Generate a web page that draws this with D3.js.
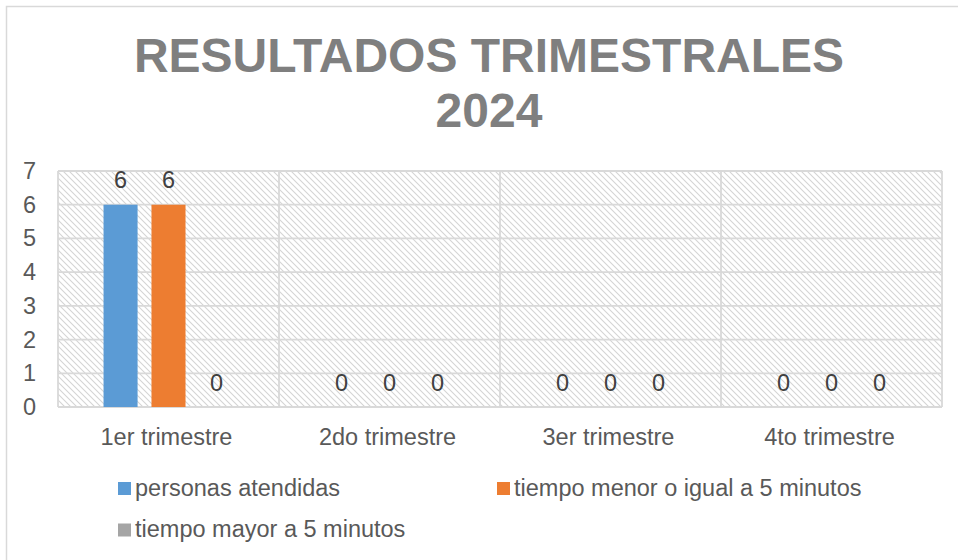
<!DOCTYPE html>
<html>
<head>
<meta charset="utf-8">
<script src="https://cdn.jsdelivr.net/npm/d3@7"></script>
<style>
  body { margin: 0; background: #fff; }
  svg { display: block; font-family: "Liberation Sans", Arial, sans-serif; }
</style>
</head>
<body>
<svg id="chart" width="958" height="560"></svg>
<script>
const categories = ['1er trimestre', '2do trimestre', '3er trimestre', '4to trimestre'];
const seriesNames = ['personas atendidas', 'tiempo menor o igual a 5 minutos', 'tiempo mayor a 5 minutos'];
const seriesColors = ['#5b9bd5', '#ed7d31', '#a5a5a5'];
const personasAtendidas = [6, 0, 0, 0];
const tiempoMenor = [6, 0, 0, 0];
const tiempoMayor = [0, 0, 0, 0];
const yTicks = [0, 1, 2, 3, 4, 5, 6, 7];

const seriesValues = [personasAtendidas, tiempoMenor, tiempoMayor];
const textColor = '#595959';
const gridColor = '#d9d9d9';
const labelSize = '23.5px';

const svg = d3.select('#chart');
const plot = { left: 58, right: 942, top: 171, bottom: 407 };

// outer chart frame (runs past the visible window on right and bottom)
svg.append('rect')
  .attr('x', 6.5).attr('y', 6.5)
  .attr('width', 1000).attr('height', 600)
  .attr('fill', '#fff')
  .attr('stroke', gridColor)
  .attr('stroke-width', 1.5);

// hatch pattern for the plot background
const defs = svg.append('defs');
defs.append('pattern')
  .attr('id', 'hatch')
  .attr('patternUnits', 'userSpaceOnUse')
  .attr('width', 6).attr('height', 6)
  .call((p) => p.append('path')
    .attr('d', 'M-1,-1 L7,7 M-1,5 L1,7 M5,-1 L7,1')
    .attr('stroke', '#d4d4d4')
    .attr('stroke-width', 1.1));

// title
svg.append('text')
  .attr('text-anchor', 'middle')
  .attr('fill', '#7f7f7f')
  .style('font-weight', 700)
  .style('font-size', '48px')
  .call((t) => t.append('tspan').attr('x', 489).attr('y', 72).text('RESULTADOS TRIMESTRALES'))
  .call((t) => t.append('tspan').attr('x', 489).attr('y', 127).text('2024'));

const y = d3.scaleLinear().domain([0, 7]).range([plot.bottom, plot.top]);
const x0 = d3.scaleBand().domain(categories).range([plot.left, plot.right]);
const x1 = d3.scaleBand().domain(d3.range(seriesNames.length))
  .range([0, x0.bandwidth()])
  .paddingInner(0.29)
  .paddingOuter(0.95);

svg.append('rect')
  .attr('x', plot.left).attr('y', plot.top)
  .attr('width', plot.right - plot.left)
  .attr('height', plot.bottom - plot.top)
  .attr('fill', 'url(#hatch)');

// horizontal gridlines
svg.append('g')
  .selectAll('line')
  .data(yTicks)
  .join('line')
  .attr('x1', plot.left).attr('x2', plot.right)
  .attr('y1', (d) => y(d)).attr('y2', (d) => y(d))
  .attr('stroke', gridColor)
  .attr('stroke-width', 1.8);

// vertical gridlines at category boundaries
svg.append('g')
  .selectAll('line')
  .data(categories.map((c) => x0(c)).concat([plot.right]))
  .join('line')
  .attr('x1', (d) => d).attr('x2', (d) => d)
  .attr('y1', plot.top).attr('y2', plot.bottom)
  .attr('stroke', gridColor)
  .attr('stroke-width', 1.8);

// y axis labels
svg.append('g')
  .selectAll('text')
  .data(yTicks)
  .join('text')
  .attr('x', 36)
  .attr('y', (d) => y(d) + 8)
  .attr('text-anchor', 'end')
  .attr('fill', textColor)
  .style('font-size', labelSize)
  .text((d) => d);

// category labels
svg.append('g')
  .selectAll('text')
  .data(categories)
  .join('text')
  .attr('x', (d) => x0(d) + x0.bandwidth() / 2 - 2)
  .attr('y', 445)
  .attr('text-anchor', 'middle')
  .attr('fill', textColor)
  .style('font-size', labelSize)
  .text((d) => d);

// bars + data labels
const flat = [];
categories.forEach((c, ci) => {
  seriesValues.forEach((vals, si) => flat.push({ cat: c, s: si, v: vals[ci] }));
});

svg.append('g')
  .selectAll('rect')
  .data(flat)
  .join('rect')
  .attr('x', (d) => x0(d.cat) + x1(d.s))
  .attr('y', (d) => y(d.v))
  .attr('width', x1.bandwidth())
  .attr('height', (d) => y(0) - y(d.v))
  .attr('fill', (d) => seriesColors[d.s]);

svg.append('g')
  .selectAll('text')
  .data(flat)
  .join('text')
  .attr('x', (d) => x0(d.cat) + x1(d.s) + x1.bandwidth() / 2)
  .attr('y', (d) => y(d.v) - 16.5)
  .attr('text-anchor', 'middle')
  .attr('fill', '#404040')
  .style('font-size', labelSize)
  .text((d) => d.v);

// legend
const legendPos = [[118, 495.5], [497, 495.5], [118, 537]];
const legend = svg.append('g')
  .selectAll('g')
  .data(seriesNames)
  .join('g')
  .attr('transform', (d, i) => `translate(${legendPos[i][0]},${legendPos[i][1]})`);
legend.append('rect')
  .attr('x', 0).attr('y', -13.5)
  .attr('width', 13).attr('height', 13)
  .attr('fill', (d, i) => seriesColors[i]);
legend.append('text')
  .attr('x', 17)
  .attr('y', 0)
  .attr('fill', textColor)
  .style('font-size', labelSize)
  .text((d) => d);
</script>
</body>
</html>
